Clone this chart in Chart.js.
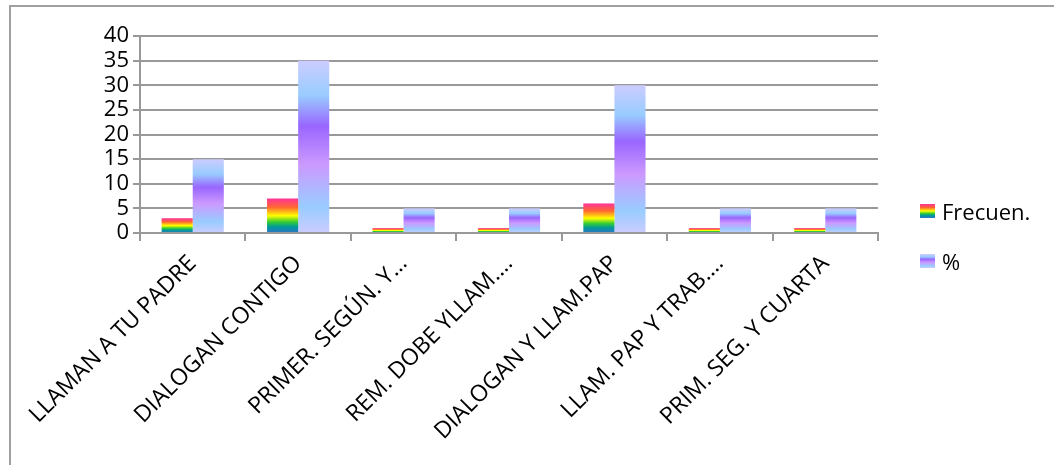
<!DOCTYPE html>
<html>
<head>
<meta charset="utf-8">
<script src="https://cdn.jsdelivr.net/npm/chart.js@4"></script>
<style>
  body { margin: 0; background: #fff; }
  #wrap { position: relative; width: 1054px; height: 465px; overflow: hidden; }
  #frame { position: absolute; left: 9px; top: 5px; right: -4px; bottom: -4px;
           border-left: 2px solid #a0a0a0; border-top: 2px solid #a0a0a0; }
  .leg { position: absolute; left: 920px; font-family: "Open Sans", sans-serif; font-size: 22px;
         color: #000; display: flex; align-items: center; }
  .leg span.sw { display: inline-block; width: 15px; height: 14px; margin-right: 7px; }
</style>
</head>
<body>
<div id="wrap">
  <div id="frame"></div>
  <canvas id="myChart" width="1054" height="465"></canvas>
  <div class="leg" style="top:196px"><span class="sw" id="sw1"></span>Frecuen.</div>
  <div class="leg" style="top:246px"><span class="sw" id="sw2"></span>%</div>
</div>
<script>
document.addEventListener('DOMContentLoaded', function () {
    // categories and values
    const categories = ['LLAMAN A TU PADRE', 'DIALOGAN CONTIGO', 'PRIMER. SEGÚN. Y…', 'REM. DOBE YLLAM.…',
        'DIALOGAN Y LLAM.PAP', 'LLAM. PAP Y TRAB.…', 'PRIM. SEG. Y CUARTA'];
    const frecuen = [3, 7, 1, 1, 6, 1, 1];
    const percent = [15, 35, 5, 5, 30, 5, 5];
    const yTicks = [0, 5, 10, 15, 20, 25, 30, 35, 40];

    // gradient stops, top to bottom
    const rainbow = [[0, '#ff3399'], [0.25, '#ff6633'], [0.5, '#ffff00'], [0.68, '#33cc33'], [0.82, '#009999'], [1, '#2e74c8']];
    const lilac = [[0, '#ccccff'], [0.2, '#99ccff'], [0.38, '#9966ff'], [0.6, '#cc99ff'], [0.85, '#99ccff'], [1, '#ccccff']];

    function cssGrad(stops) {
        return 'linear-gradient(to bottom,' + stops.map(s => s[1] + ' ' + (s[0] * 100) + '%').join(',') + ')';
    }
    document.getElementById('sw1').style.background = cssGrad(rainbow);
    document.getElementById('sw2').style.background = cssGrad(lilac);

    // one gradient per bar, from its top down to zero
    function barFill(stops) {
        return function (c) {
            const chart = c.chart;
            if (!chart.chartArea || c.type !== 'data') return stops[2][1];
            const y = chart.scales.y;
            const top = y.getPixelForValue(c.raw);
            const bottom = y.getPixelForValue(0);
            const g = chart.ctx.createLinearGradient(0, top, 0, bottom);
            stops.forEach(s => g.addColorStop(s[0], s[1]));
            return g;
        };
    }

    const ctx = document.getElementById('myChart').getContext('2d');
    new Chart(ctx, {
        type: 'bar',
        data: {
            labels: categories,
            datasets: [
                { label: 'Frecuen.', data: frecuen, backgroundColor: barFill(rainbow) },
                { label: '%', data: percent, backgroundColor: barFill(lilac) }
            ]
        },
        options: {
            responsive: false,
            animation: false,
            categoryPercentage: 0.59,
            barPercentage: 1,
            layout: { padding: { top: 36, right: 176, left: 0, bottom: 0 } },
            plugins: {
                legend: { display: false },
                tooltip: { enabled: false }
            },
            scales: {
                x: {
                    afterFit: s => { s.height = 232; },
                    grid: { drawOnChartArea: false, drawTicks: true, tickLength: 8, color: '#999', lineWidth: 2 },
                    border: { color: '#999', width: 2 },
                    ticks: {
                        color: '#000', font: { family: 'Open Sans', size: 23 },
                        minRotation: 45, maxRotation: 45, autoSkip: false, padding: 9
                    }
                },
                y: {
                    min: 0, max: 40,
                    afterFit: s => { s.width = 140; },
                    afterBuildTicks: s => { s.ticks = yTicks.map(v => ({ value: v })); },
                    grid: { color: '#999', lineWidth: 2, tickLength: 7 },
                    border: { color: '#999', width: 2 },
                    ticks: { color: '#000', font: { family: 'Open Sans', size: 22 }, padding: 4, autoSkip: false, stepSize: 5 }
                }
            }
        }
    });
});
</script>
</body>
</html>
